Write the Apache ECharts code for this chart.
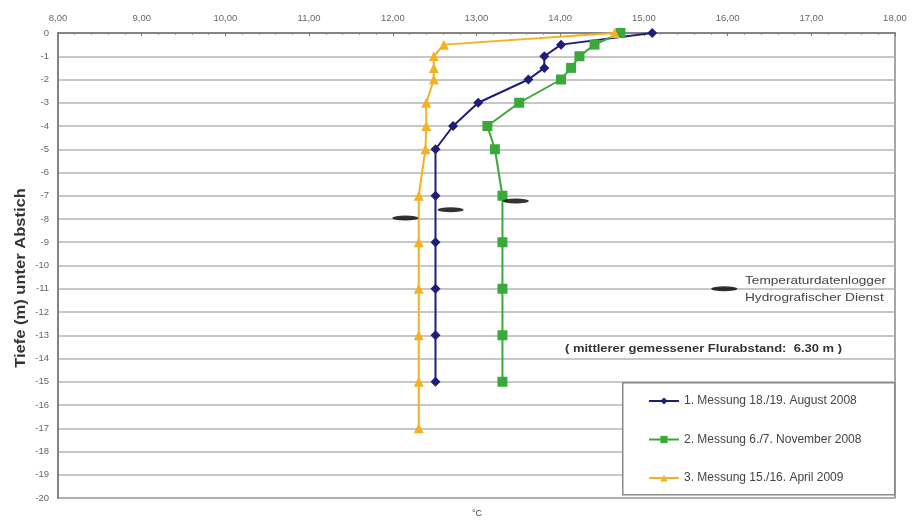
<!DOCTYPE html>
<html><head><meta charset="utf-8">
<script src="https://cdn.jsdelivr.net/npm/echarts@6/dist/echarts.min.js"></script>
<style>html,body{margin:0;padding:0;background:#fff}#c{width:912px;height:520px}</style>
</head><body><div id="c"></div>
<script>
const seriesNames = ['1. Messung 18./19. August 2008','2. Messung 6./7. November 2008','3. Messung 15./16. April 2009'];
const depth1 = [0,-0.5,-1,-1.5,-2,-3,-4,-5,-7,-9,-11,-13,-15];
const temp1  = [15.10,14.01,13.81,13.81,13.62,13.02,12.72,12.51,12.51,12.51,12.51,12.51,12.51];
const depth2 = [0,-0.5,-1,-1.5,-2,-3,-4,-5,-7,-9,-11,-13,-15];
const temp2  = [14.72,14.41,14.23,14.13,14.01,13.51,13.13,13.22,13.31,13.31,13.31,13.31,13.31];
const depth3 = [0,-0.5,-1,-1.5,-2,-3,-4,-5,-7,-9,-11,-13,-15,-17];
const temp3  = [14.65,12.61,12.49,12.49,12.49,12.40,12.40,12.39,12.31,12.31,12.31,12.31,12.31,12.31];
const loggerTemp  = [12.15,12.69,13.47];
const loggerDepth = [-7.96,-7.6,-7.23];
const loggerKeyTemp = [15.96];
const loggerKeyDepth = [-11.0];
const xTicks = [8,9,10,11,12,13,14,15,16,17,18];
const colors = ['#1e1e78','#3aa83a','#f5b120'];
const symbols = ['diamond','rect','triangle'];
const symSizes = [10,10,10];

const pairs = (xs, ys) => xs.map((x,i)=>[x, ys[i]]);
const temps = [temp1,temp2,temp3], depths=[depth1,depth2,depth3];

const chart = echarts.init(document.getElementById('c'), null, {renderer:'canvas'});
const series = seriesNames.map((n,i)=>({
  name:n, type:'line', data:pairs(temps[i],depths[i]),
  symbol:symbols[i], symbolSize:symSizes[i], showAllSymbol:true,
  lineStyle:{color:colors[i],width:2}, itemStyle:{color:colors[i]},
  z:3, animation:false
}));
series.push({
  name:'logger', type:'scatter', data:pairs(loggerTemp,loggerDepth).concat(pairs(loggerKeyTemp,loggerKeyDepth)),
  symbol:'circle', symbolSize:[26,5], itemStyle:{color:'#000'}, z:4, animation:false
});
const F='Liberation Sans';
chart.setOption({
  animation:false,
  backgroundColor:'#fff',
  grid:{left:58,right:17,top:33,bottom:22,show:true,borderColor:'#888',borderWidth:1.5},
  xAxis:{type:'value',position:'top',min:xTicks[0],max:xTicks[xTicks.length-1],interval:1,
    axisLine:{show:true,onZero:false,lineStyle:{color:'#777',width:1.5}},
    axisTick:{show:true,inside:true,length:3,lineStyle:{color:'#777'}},
    minorTick:{show:true,splitNumber:5,length:2,lineStyle:{color:'#999'}},
    splitLine:{show:false},
    axisLabel:{color:'#666',fontSize:9.5,margin:10,fontFamily:F,formatter:v=>v.toFixed(2).replace('.',',')}},
  yAxis:{type:'value',min:-20,max:0,interval:1,
    axisLine:{show:true,onZero:false,lineStyle:{color:'#777',width:1.5}},
    axisTick:{show:false},
    splitLine:{show:true,lineStyle:{color:'#b5b5b5',width:1.5}},
    axisLabel:{color:'#666',fontSize:9.5,margin:9,fontFamily:F}},
  legend:{data:seriesNames,orient:'vertical',left:648,top:394,z:20,
    padding:0,itemGap:24.5,itemWidth:30,itemHeight:9,
    textStyle:{fontSize:12,color:'#444',fontFamily:F,lineHeight:14}},
  graphic:[
    {type:'rect',left:622,top:382,z:5,shape:{width:272,height:112},style:{fill:'#fff',stroke:'#888',lineWidth:1.5}},
    {type:'text',x:21,y:278,rotation:Math.PI/2,z:10,style:{text:'Tiefe (m) unter Abstich',fontSize:14,fontWeight:'bold',fill:'#333',fontFamily:F,align:'center',verticalAlign:'middle'},scaleX:1.18},
    {type:'text',x:745,y:272,z:10,scaleX:1.24,style:{text:'Temperaturdatenlogger\nHydrografischer Dienst',fontSize:11,lineHeight:17,fill:'#444',fontFamily:F}},
    {type:'text',x:565,y:343,z:10,scaleX:1.18,style:{text:'( mittlerer gemessener Flurabstand:  6.30 m )',fontSize:11,fontWeight:'bold',fill:'#333',fontFamily:F}},
    {type:'text',x:477,y:514,z:10,style:{text:'°C',fontSize:9,fill:'#444',fontFamily:F,align:'center',verticalAlign:'middle'}}
  ],
  series:series
});
</script></body></html>
